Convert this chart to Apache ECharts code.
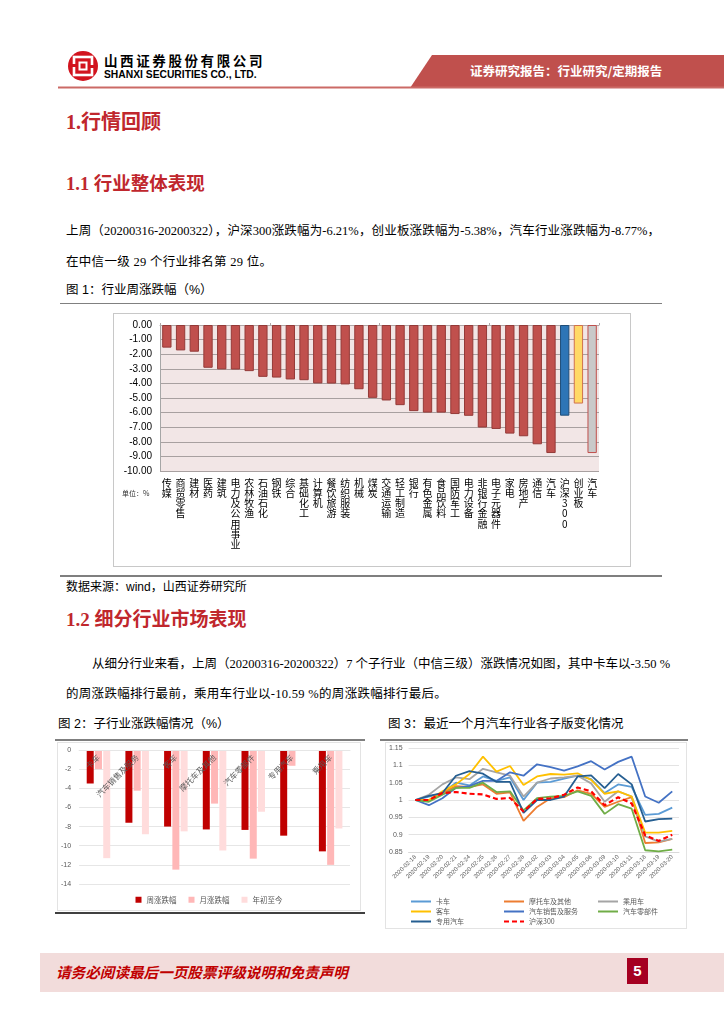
<!DOCTYPE html>
<html><head><meta charset="utf-8">
<script src="https://cdn.jsdelivr.net/npm/echarts@6/dist/echarts.min.js"></script>
<style>
html,body{margin:0;padding:0;background:#fff;}
#page{position:relative;width:724px;height:1024px;overflow:hidden;font-family:"Liberation Serif","Noto Sans CJK SC",serif;color:#000;}
.abs{position:absolute;white-space:nowrap;}
.h1{font-family:"Liberation Serif","Noto Sans CJK SC";font-weight:bold;color:#C0272D;}
.p{font-size:12.5px;}
.just{text-align:justify;text-align-last:justify;}
.cap{font-size:12.5px;font-family:"Liberation Sans","Noto Sans CJK SC";}
.line{position:absolute;}
</style></head>
<body><div id="page">
<!-- header -->
<svg class="abs" style="left:0;top:0" width="724" height="95">
  <circle cx="83" cy="66" r="15" fill="#D2141E"/>
  <rect x="74" y="57" width="18" height="18" fill="none" stroke="#fff" stroke-width="2.6"/>
  <rect x="79.5" y="62.5" width="7" height="7" fill="#D2141E" stroke="#fff" stroke-width="2"/>
  <rect x="70" y="64" width="6" height="3" fill="#D2141E"/>
  <rect x="90" y="65" width="6" height="3" fill="#D2141E"/>
  <polygon points="432,55 724,55 724,88 410,88" fill="#C0504D"/>
  <rect x="58" y="86.5" width="666" height="2" fill="#CB6A66"/>
</svg>
<div class="abs" style="left:104px;top:52px;font-family:'Noto Sans CJK SC';font-weight:bold;font-size:13.5px;letter-spacing:2.6px;line-height:16px;">山西证券股份有限公司</div>
<div class="abs" style="left:104px;top:69px;font-family:'Liberation Sans';font-weight:bold;font-size:10.3px;line-height:12px;">SHANXI SECURITIES CO., LTD.</div>
<div class="abs" style="left:470px;top:63px;font-family:'Noto Sans CJK SC';font-weight:bold;font-size:12.5px;color:#fff;line-height:16px;">证券研究报告：行业研究/定期报告</div>

<div class="abs h1" style="left:66px;top:110px;font-size:20px;line-height:24px;">1.行情回顾</div>
<div class="abs h1" style="left:66px;top:173px;font-size:18.5px;line-height:22px;">1.1 行业整体表现</div>
<div class="abs p just" style="left:66px;top:222px;width:594px;line-height:18px;">上周（20200316-20200322），沪深300涨跌幅为-6.21%，创业板涨跌幅为-5.38%，汽车行业涨跌幅为-8.77%，</div>
<div class="abs p" style="left:66px;top:253px;line-height:18px;letter-spacing:0.3px;">在中信一级 29 个行业排名第 29 位。</div>
<div class="abs cap" style="left:66px;top:282px;line-height:16px;">图 1：行业周涨跌幅（%）</div>
<div class="line" style="left:60px;top:303px;width:602px;height:1px;background:#808080;"></div>
<div id="c1" class="abs" style="left:113px;top:313px;width:518px;height:254px;border:1px solid #C8C8C8;box-sizing:border-box;"></div>
<div class="line" style="left:60px;top:575px;width:602px;height:1.5px;background:#7F7F7F;"></div>
<div class="abs cap" style="left:66px;top:579px;font-size:12px;line-height:16px;">数据来源：wind，山西证券研究所</div>

<div class="abs h1" style="left:66px;top:608px;font-size:19px;line-height:24px;">1.2 细分行业市场表现</div>
<div class="abs p just" style="left:92px;top:655px;width:572px;line-height:18px;">从细分行业来看，上周（20200316-20200322）7 个子行业（中信三级）涨跌情况如图，其中卡车以-3.50 %</div>
<div class="abs p" style="left:66px;top:685px;line-height:18px;letter-spacing:0.3px;">的周涨跌幅排行最前，乘用车行业以-10.59 %的周涨跌幅排行最后。</div>

<div class="abs cap" style="left:58px;top:716px;line-height:16px;">图 2：子行业涨跌幅情况（%）</div>
<div class="abs cap" style="left:388px;top:716px;line-height:16px;">图 3：最近一个月汽车行业各子版变化情况</div>
<div class="line" style="left:55px;top:739px;width:310px;height:2px;background:#7F7F7F;"></div>
<div class="line" style="left:380px;top:739px;width:308px;height:2px;background:#7F7F7F;"></div>
<div id="c2" class="abs" style="left:57px;top:742px;width:304px;height:169px;border:1px solid #E3E3E3;box-sizing:border-box;"></div>
<div class="line" style="left:55px;top:912px;width:310px;height:2px;background:#404040;"></div>
<div id="c3" class="abs" style="left:385px;top:742px;width:302px;height:187px;border:1px solid #E3E3E3;box-sizing:border-box;"></div>

<!-- footer -->
<div class="line" style="left:40px;top:953px;width:684px;height:39px;background:#F2DCDB;"></div>
<div class="abs" style="left:56px;top:962px;font-family:'Noto Sans CJK SC';font-weight:bold;font-style:italic;font-size:14.6px;color:#C00000;line-height:20px;">请务必阅读最后一页股票评级说明和免责声明</div>
<div class="abs" style="left:627px;top:958px;width:21px;height:26px;background:#A50021;color:#fff;font-family:'Liberation Sans';font-weight:bold;font-size:15px;line-height:26px;text-align:center;">5</div>
</div>
<script>
// ---------- Chart 1 data ----------
const industries = ['传媒','商贸零售','建材','医药','建筑','电力及公用事业','农林牧渔','石油石化','钢铁','综合','基础化工','计算机','餐饮旅游','纺织服装','机械','煤炭','交通运输','轻工制造','银行','有色金属','食品饮料','国防军工','电力设备','非银行金融','电子元器件','家电','房地产','通信','汽车','沪深300','创业板','汽车'];
const weeklyChange = [-1.55,-1.74,-1.83,-2.93,-3.04,-3.05,-3.16,-3.55,-3.60,-3.73,-3.78,-4.00,-4.01,-4.07,-4.40,-4.99,-5.17,-5.49,-5.90,-6.00,-6.00,-6.10,-6.22,-7.02,-7.12,-7.44,-7.62,-8.17,-8.77,-6.21,-5.38,-8.77];
const yTicks1 = [0,-1,-2,-3,-4,-5,-6,-7,-8,-9,-10];

// ---------- Chart 2 data ----------
const subIndustries = ['卡车','汽车销售及服务','客车','摩托车及其他','汽车零部件','专用汽车','乘用车'];
const weekChg = [-3.50,-7.60,-8.00,-8.30,-8.35,-8.95,-10.59];
const monthChg = [-2.00,-4.25,-12.50,-5.60,-11.35,-1.65,-12.00];
const ytdChg = [-11.30,-8.80,-8.50,-10.50,-6.45,-0.10,-8.20];
const seriesNames2 = ['周涨跌幅','月涨跌幅','年初至今'];

// ---------- Chart 3 data ----------
const dates = ['2020-02-18','2020-02-19','2020-02-20','2020-02-21','2020-02-24','2020-02-25','2020-02-26','2020-02-27','2020-02-28','2020-03-02','2020-03-03','2020-03-04','2020-03-05','2020-03-06','2020-03-09','2020-03-10','2020-03-11','2020-03-18','2020-03-19','2020-03-20'];
const truck      = [1.000,1.010,1.020,1.050,1.042,1.068,1.055,1.065,1.000,1.050,1.052,1.062,1.070,1.060,1.020,1.045,1.038,0.957,0.960,0.978];
const motorcycle = [1.000,0.998,1.020,1.040,1.038,1.045,1.018,1.022,0.940,0.980,1.005,1.008,1.028,1.018,0.980,0.995,1.008,0.876,0.878,0.888];
const passenger  = [1.000,1.015,1.045,1.065,1.060,1.090,1.080,1.070,1.010,1.050,1.062,1.065,1.070,1.048,0.995,1.025,1.010,0.895,0.880,0.888];
const bus        = [1.000,1.000,1.025,1.045,1.075,1.125,1.082,1.098,1.043,1.068,1.075,1.073,1.077,1.058,1.018,1.025,1.010,0.906,0.906,0.911];
const autoSales  = [1.000,0.985,1.005,1.035,1.040,1.055,1.055,1.080,1.070,1.103,1.095,1.085,1.097,1.112,1.088,1.110,1.125,1.010,0.992,1.025];
const autoParts  = [1.000,0.995,1.015,1.035,1.035,1.050,1.023,1.025,0.970,1.005,1.010,1.012,1.025,1.012,0.960,0.988,0.975,0.855,0.852,0.857];
const specialVeh = [1.000,1.012,1.020,1.070,1.083,1.076,1.052,1.052,0.963,1.000,1.000,1.010,1.068,1.071,1.034,1.075,1.045,0.938,0.945,0.946];
const hs300      = [1.000,1.000,1.020,1.023,1.018,1.016,1.003,1.006,0.967,1.003,1.005,1.015,1.036,1.025,0.985,1.008,0.990,0.898,0.882,0.900];
const lineNames = ['卡车','摩托车及其他','乘用车','客车','汽车销售及服务','汽车零部件','专用汽车','沪深300'];

// ---------- styles ----------
const barStyle1 = {default:['#C0504D','#943A38'], '沪深300':['#2E75B6','#1F4E79'], '创业板':['#FFD966','#D0704D'], last:['#C9C9C9','#C0504D']};
const font = '"Liberation Sans","Noto Sans CJK SC",sans-serif';

// ---------- Chart 1 ----------
const c1 = echarts.init(document.getElementById('c1'));
c1.setOption({
  animation:false,
  textStyle:{fontFamily:font},
  grid:{left:46,top:11,right:31,bottom:95,show:true,backgroundColor:'#F2E6E6',borderWidth:0},
  xAxis:[{type:'category',data:industries,position:'bottom',
          axisLine:{onZero:false,show:false},axisTick:{show:false},
          axisLabel:{interval:0,fontSize:10,lineHeight:10.2,color:'#000',margin:7,verticalAlign:'top',
            fontFamily:'"Noto Sans CJK SC"',formatter:v=>v.split('').join('\n')}},
         {type:'category',data:industries,position:'top',
          axisLine:{show:true,lineStyle:{color:'#B0A8A8'}},axisTick:{show:true,length:2,lineStyle:{color:'#B0A8A8'}},axisLabel:{show:false}}],
  yAxis:{type:'value',min:-10,max:0,interval:1,
    axisLine:{show:true,lineStyle:{color:'#A6A6A6'}},axisTick:{show:false},
    splitLine:{lineStyle:{color:'#A8A0A0',width:1}},
    axisLabel:{fontSize:10,color:'#000',margin:8,formatter:v=>v.toFixed(2)}},
  graphic:[{type:'text',left:8,top:176,style:{text:'单位：%',fontSize:7,fill:'#333',fontFamily:'"Noto Sans CJK SC"'}}],
  series:[{type:'bar',barCategoryGap:'32%',
    data:weeklyChange.map((v,i)=>{
      const st = i===industries.length-1 ? barStyle1.last : (barStyle1[industries[i]]||barStyle1.default);
      return {value:v,itemStyle:{color:st[0],borderColor:st[1],borderWidth:1}};
    })}]
});

// ---------- Chart 2 ----------
const c2 = echarts.init(document.getElementById('c2'));
const colors2 = ['#C00000','#FFB7B7','#FFDCDC'];
c2.setOption({
  animation:false,
  textStyle:{fontFamily:font},
  color:colors2,
  legend:{left:'center',top:153,itemWidth:6,itemHeight:6,itemGap:12,icon:'rect',padding:0,
    textStyle:{fontSize:7.5,color:'#595959',fontFamily:'"Noto Sans CJK SC"'},data:seriesNames2},
  grid:{left:19,top:7,right:10,bottom:26},
  xAxis:{type:'category',data:subIndustries,position:'top',
    axisLine:{show:true,onZero:false,lineStyle:{color:'#E6E6E6'}},axisTick:{show:false},
    axisLabel:{inside:true,interval:0,rotate:-45,fontSize:8,color:'#595959',margin:6,fontFamily:'"Noto Sans CJK SC"'},z:5},
  yAxis:{type:'value',min:-14,max:0,interval:2,
    axisLine:{show:false},axisTick:{show:false},
    splitLine:{lineStyle:{color:'#E6E6E6'}},
    axisLabel:{fontSize:7,color:'#595959',margin:8}},
  series:[
    {name:seriesNames2[0],type:'bar',data:weekChg,barWidth:7,barGap:'18%',z:1},
    {name:seriesNames2[1],type:'bar',data:monthChg,barWidth:7,barGap:'18%',z:1},
    {name:seriesNames2[2],type:'bar',data:ytdChg,barWidth:7,barGap:'18%',z:1}
  ]
});

// ---------- Chart 3 ----------
const c3 = echarts.init(document.getElementById('c3'));
const lineData = [truck,motorcycle,passenger,bus,autoSales,autoParts,specialVeh,hs300];
const lineColors = ['#5B9BD5','#ED7D31','#A5A5A5','#FFC000','#4472C4','#70AD47','#255E91','#FF0000'];
const legendCommon = {orient:'vertical',itemWidth:20,itemHeight:7,itemGap:3,padding:0,
  itemStyle:{opacity:0},
  textStyle:{fontSize:7,color:'#595959',fontFamily:'"Noto Sans CJK SC"'}};
c3.setOption({
  animation:false,
  textStyle:{fontFamily:font},
  legend:[
    Object.assign({left:24,top:155,data:[lineNames[0],lineNames[3],lineNames[6]]},legendCommon),
    Object.assign({left:117,top:155,data:[lineNames[1],lineNames[4],lineNames[7]]},legendCommon),
    Object.assign({left:211,top:155,data:[lineNames[2],lineNames[5]]},legendCommon)
  ],
  grid:{left:20,top:5,right:7,bottom:76},
  xAxis:{type:'category',data:dates,boundaryGap:true,
    axisLine:{show:true,lineStyle:{color:'#D9D9D9'}},axisTick:{show:false},
    axisLabel:{interval:0,rotate:45,fontSize:6,color:'#595959',margin:4}},
  yAxis:{type:'value',min:0.85,max:1.15,interval:0.05,
    axisLine:{show:false},axisTick:{show:false},
    splitLine:{lineStyle:{color:'#E3E3E3'}},
    axisLabel:{fontSize:7,color:'#595959',margin:6,formatter:v=>String(+v.toFixed(2))}},
  series:lineData.map((d,i)=>({
    name:lineNames[i],type:'line',data:d,symbol:'none',
    lineStyle:{color:lineColors[i],width:i===7?2.2:1.8,type:i===7?[5,3]:'solid'},
    itemStyle:{color:lineColors[i]},z:i===7?10:2
  }))
});
</script>
</body></html>
